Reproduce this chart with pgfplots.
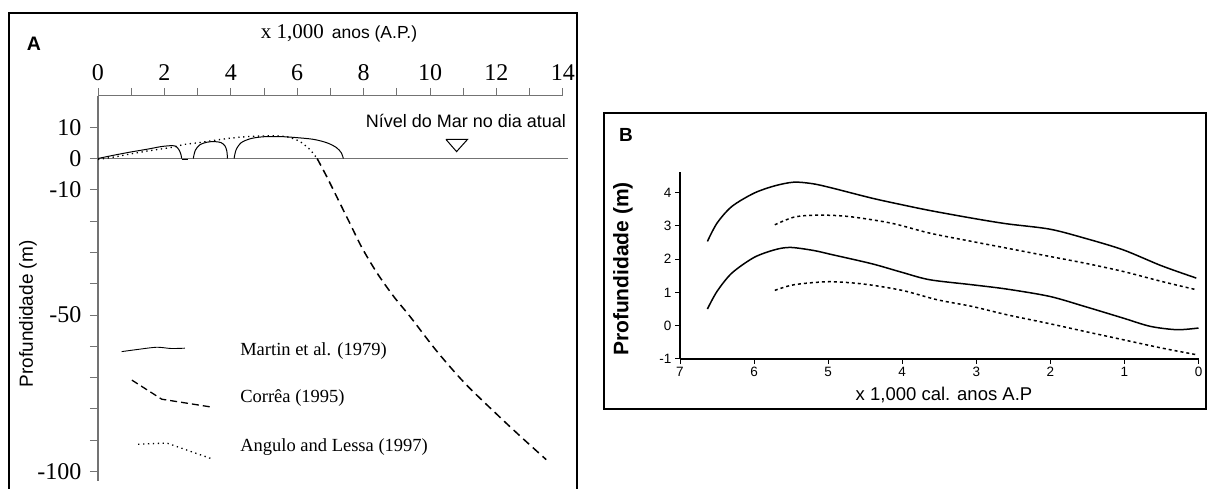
\documentclass[border=0pt]{standalone}
\usepackage{fontspec}
\setmainfont{Liberation Serif}
\newfontfamily\arial{Liberation Sans}
\usepackage{pgfplots}
\pgfplotsset{compat=1.18}
\begin{document}
\begin{tikzpicture}[x=1pt,y=1pt]
\useasboundingbox (0,0) rectangle (1207,489);
% panel frames
\draw[line width=2pt] (8.5,-10) -- (8.5,476) -- (576.5,476) -- (576.5,-10);
\draw[line width=2pt] (604,79.5) rectangle (1205.5,375.5);
% panel A texts
\node[font=\arial\bfseries\fontsize{19.5}{20}\selectfont] at (34,445.5) {A};
\node at (339,456) {{\fontsize{21}{21}\selectfont x 1,000}\hspace{8pt}{\arial\fontsize{17.5}{18}\selectfont anos (A.P.)}};
\node[rotate=90, font=\arial\fontsize{19}{20}\selectfont] at (28,175) {Profundidade (m)};
% panel B texts
\node[font=\arial\bfseries\fontsize{19}{19}\selectfont] at (626,354) {B};
\node[rotate=90, font=\arial\bfseries\fontsize{21}{22}\selectfont] at (623,220) {Profundidade (m)};
\node[font=\arial\fontsize{18.5}{19}\selectfont] at (944,94) {x 1,000 cal. anos A.P};

\begin{axis}[
  at={(98pt,8.1pt)}, anchor=south west, scale only axis,
  width=464.8pt, height=385pt,
  xmin=0, xmax=14, ymin=-103, ymax=20,
  axis x line=top, axis y line=left,
  axis line style={-, black!55, line width=1.2pt},
  xtick={0,...,14}, xticklabels={0,,2,,4,,6,,8,,10,,12,,14},
  ytick={-100,-90,...,10}, yticklabels={-100,,,,,-50,,,,-10,0,10},
  tick align=outside, major tick length=8pt,
  tick style={black!55, line width=1pt},
  ticklabel style={font=\fontsize{24}{24}\selectfont},
  xticklabel style={yshift=4pt},
  yticklabel style={xshift=-5pt},
  clip=false,
]
% zero line
\addplot[black!55, line width=1.2pt] coordinates {(0,0) (14.15,0)};
% Martin et al. (1979) arches
\addplot[black, line width=1pt, smooth, tension=0.4] coordinates {
(0,0) (0.5,1.1) (1,2.1) (1.5,3.0) (1.9,3.8) (2.2,4.1) (2.35,3.9) (2.45,2.6) (2.5,1.2) (2.52,0)};
\addplot[black, line width=1pt] coordinates {(2.52,-0.3) (2.72,-0.3)};
\addplot[black, line width=1pt, smooth, tension=0.5] coordinates {
(2.87,0) (2.93,2.6) (3.07,4.4) (3.28,5.2) (3.5,5.4) (3.7,5.1) (3.82,4.1) (3.88,2.4) (3.9,0)};
\addplot[black, line width=1pt, smooth, tension=0.5] coordinates {
(4.1,0) (4.16,2.8) (4.32,5.1) (4.62,6.4) (5.0,6.95) (5.5,7.0) (6.0,6.65) (6.5,6.1) (6.9,5.0) (7.18,3.5) (7.33,1.8) (7.39,0)};
% Angulo and Lessa (1997) dotted
\addplot[black, line width=1.3pt, dash pattern=on 1.3pt off 3.6pt, smooth, tension=0.5] coordinates {
(0,-0.3) (0.5,0.5) (1,1.5) (1.5,2.4) (2.0,3.2) (2.3,3.7) (2.6,4.5) (3.0,5.0) (3.5,5.8) (4.0,6.5) (4.5,7.0) (5.0,7.2) (5.4,7.2) (5.7,6.9) (6.05,5.6) (6.35,3.2) (6.55,0.7) (6.62,0)};
% Correa (1995) dashed
\addplot[black, line width=1.5pt, dash pattern=on 8pt off 5pt, smooth] coordinates {
(6.6,0) (6.9,-6) (7.25,-13.5) (7.6,-21) (7.95,-28.5) (8.4,-36.5) (8.9,-44) (9.4,-50.5) (10.2,-61.5) (11.05,-71.8) (12.1,-82.6) (12.8,-89.5) (13.5,-96.2)};
% present sea level triangle
\addplot[black, line width=1pt] coordinates {(10.48,6.1) (11.13,6.1) (10.8,2.2) (10.48,6.1)};
\node[anchor=east, font=\arial\fontsize{18}{18}\selectfont] at (axis cs:14.2,12) {Nível do Mar no dia atual};
% legend samples
\addplot[black, line width=0.9pt, smooth] coordinates {(0.71,-61.7) (1.2,-61.0) (1.77,-60.3) (2.2,-60.7) (2.62,-60.6)};
\addplot[black, line width=1.3pt, dash pattern=on 7pt off 4pt] coordinates {(1.02,-70.8) (1.92,-76.9) (3.47,-79.5)};
\addplot[black, line width=1.3pt, dash pattern=on 1.3pt off 3.6pt] coordinates {(1.21,-91.3) (2.07,-90.9) (3.47,-96.1)};
\node[anchor=west, inner sep=0pt, font=\rmfamily\fontsize{18.5}{20}\selectfont] at (axis cs:4.28,-61.4) {Martin et al. (1979)};
\node[anchor=west, inner sep=0pt, font=\rmfamily\fontsize{18.5}{20}\selectfont] at (axis cs:4.28,-76.5) {Corrêa (1995)};
\node[anchor=west, inner sep=0pt, font=\rmfamily\fontsize{18.5}{20}\selectfont] at (axis cs:4.28,-92.1) {Angulo and Lessa (1997)};
\end{axis}

\begin{axis}[
  at={(680pt,130pt)}, anchor=south west, scale only axis,
  width=518.5pt, height=186.5pt,
  xmin=0, xmax=7, x dir=reverse, ymin=-1, ymax=4.6,
  axis x line=bottom, axis y line=left,
  axis line style={-, black, line width=1.2pt},
  xtick={0,1,2,3,4,5,6,7}, xticklabels={0,1,2,3,4,5,6,7},
  ytick={-1,0,1,2,3,4}, yticklabels={-1,0,1,2,3,4},
  tick align=outside, major tick length=5pt,
  tick style={black, line width=1pt},
  ticklabel style={font=\arial\fontsize{13.5}{14}\selectfont},
  clip=false,
]
\addplot[black, line width=1.5pt, smooth] coordinates {
(6.63,2.53) (6.5,3.08) (6.3,3.58) (6.0,3.98) (5.72,4.2) (5.46,4.31) (5.2,4.26) (4.94,4.13) (4.41,3.83) (4.0,3.63) (3.63,3.46) (3.06,3.23) (2.59,3.06) (2.01,2.9) (1.54,2.63) (1.02,2.28) (0.5,1.8) (0.03,1.43)};
\addplot[black, line width=1.5pt, smooth] coordinates {
(6.63,0.5) (6.5,1.03) (6.3,1.58) (6.0,2.05) (5.72,2.28) (5.51,2.35) (5.2,2.26) (4.94,2.13) (4.41,1.86) (4.0,1.6) (3.63,1.38) (3.06,1.23) (2.59,1.1) (2.01,0.88) (1.54,0.58) (1.02,0.23) (0.65,-0.02) (0.29,-0.12) (0.0,-0.07)};
\addplot[black, line width=1.5pt, dash pattern=on 3pt off 3pt, smooth] coordinates {
(5.72,3.03) (5.46,3.26) (5.15,3.32) (4.73,3.28) (4.15,3.08) (3.63,2.78) (3.06,2.53) (2.59,2.33) (2.01,2.08) (1.54,1.88) (1.02,1.63) (0.5,1.33) (0.03,1.08)};
\addplot[black, line width=1.5pt, dash pattern=on 3pt off 3pt, smooth] coordinates {
(5.72,1.06) (5.46,1.23) (4.99,1.32) (4.52,1.25) (4.0,1.06) (3.53,0.78) (3.06,0.58) (2.59,0.33) (2.01,0.06) (1.54,-0.17) (1.02,-0.42) (0.5,-0.67) (0.03,-0.87)};
\end{axis}
\end{tikzpicture}
\end{document}
